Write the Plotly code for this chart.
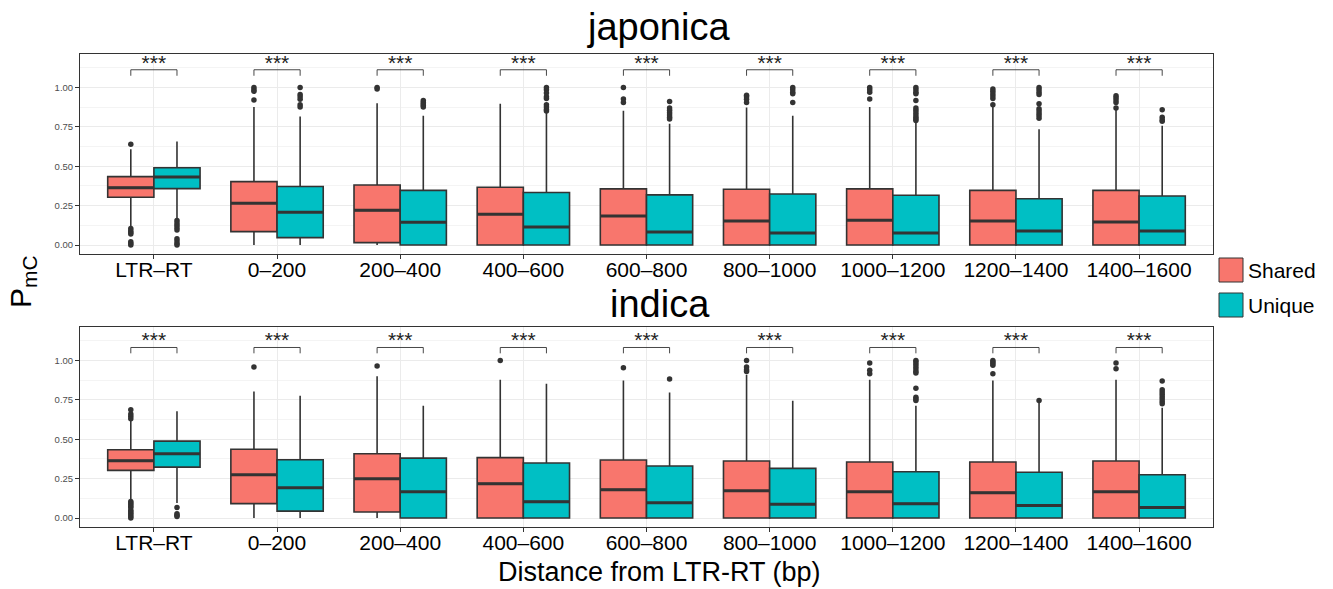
import plotly.graph_objects as go

# ---------------- data ----------------
categories = ["LTR\u2013RT", "0\u2013200", "200\u2013400", "400\u2013600", "600\u2013800",
              "800\u20131000", "1000\u20131200", "1200\u20131400", "1400\u20131600"]
panels = ["japonica", "indica"]
groups = ["Shared", "Unique"]

# japonica - Shared
jap_shared_q1 = [0.303, 0.085, 0.015, 0, 0, 0, 0, 0, 0]
jap_shared_med = [0.364, 0.265, 0.220, 0.195, 0.184, 0.153, 0.157, 0.153, 0.146]
jap_shared_q3 = [0.434, 0.402, 0.381, 0.367, 0.356, 0.354, 0.356, 0.347, 0.347]
jap_shared_lo = [0.117, 0, 0, 0, 0, 0, 0, 0, 0]
jap_shared_hi = [0.608, 0.875, 0.900, 0.896, 0.852, 0.873, 0.875, 0.879, 0.862]
jap_shared_out = [
    [0.64, 0.105, 0.09, 0.08, 0.07, 0.02, 0.01, 0.0],
    [1.0, 0.985, 0.975, 0.92],
    [1.0, 0.99],
    [],
    [1.0, 0.926, 0.905],
    [0.95, 0.94, 0.925, 0.905],
    [1.0, 0.985, 0.97, 0.926],
    [0.99, 0.975, 0.96, 0.945, 0.93, 0.89],
    [0.947, 0.935, 0.92, 0.905, 0.87],
]
# japonica - Unique
jap_unique_q1 = [0.358, 0.047, 0, 0, 0, 0, 0, 0, 0]
jap_unique_med = [0.432, 0.208, 0.144, 0.114, 0.083, 0.076, 0.076, 0.089, 0.089]
jap_unique_q3 = [0.490, 0.371, 0.347, 0.333, 0.318, 0.324, 0.316, 0.294, 0.311]
jap_unique_lo = [0.17, 0, 0, 0, 0, 0, 0, 0, 0]
jap_unique_hi = [0.657, 0.816, 0.820, 0.837, 0.769, 0.820, 0.784, 0.735, 0.756]
jap_unique_out = [
    [0.155, 0.14, 0.125, 0.11, 0.095, 0.04, 0.025, 0.01, 0.0],
    [1.0, 0.955, 0.94, 0.925, 0.89, 0.875],
    [0.917, 0.905, 0.895, 0.885, 0.875],
    [1.0, 0.985, 0.965, 0.94, 0.93, 0.89, 0.875, 0.86, 0.85],
    [0.91, 0.87, 0.855, 0.84, 0.825, 0.81, 0.80],
    [1.0, 0.985, 0.97, 0.96, 0.905],
    [1.0, 0.985, 0.97, 0.96, 0.917, 0.87, 0.855, 0.84, 0.825, 0.81, 0.80, 0.79],
    [1.0, 0.985, 0.97, 0.955, 0.896, 0.865, 0.85, 0.835, 0.82, 0.805],
    [0.858, 0.81, 0.795, 0.785],
]
# indica - Shared
ind_shared_q1 = [0.302, 0.091, 0.038, 0, 0, 0, 0, 0, 0]
ind_shared_med = [0.364, 0.275, 0.249, 0.218, 0.180, 0.173, 0.167, 0.161, 0.167]
ind_shared_q3 = [0.433, 0.436, 0.408, 0.383, 0.368, 0.362, 0.355, 0.355, 0.362]
ind_shared_lo = [0.112, 0, 0, 0, 0, 0, 0, 0, 0]
ind_shared_hi = [0.619, 0.803, 0.899, 0.877, 0.873, 0.909, 0.877, 0.873, 0.877]
ind_shared_out = [
    [0.687, 0.66, 0.645, 0.63, 0.105, 0.095, 0.085, 0.075, 0.065, 0.05, 0.04, 0.03, 0.02, 0.01, 0.0],
    [0.958],
    [0.964],
    [1.0],
    [0.953],
    [1.0, 0.958, 0.94, 0.93],
    [0.983, 0.937, 0.915],
    [1.0, 0.99, 0.98, 0.97, 0.915],
    [0.983, 0.947],
]
# indica - Unique
ind_unique_q1 = [0.323, 0.044, 0, 0, 0, 0, 0, 0, 0]
ind_unique_med = [0.408, 0.192, 0.167, 0.104, 0.097, 0.087, 0.091, 0.080, 0.066]
ind_unique_q3 = [0.488, 0.370, 0.380, 0.349, 0.330, 0.315, 0.294, 0.290, 0.275]
ind_unique_lo = [0.095, 0, 0, 0, 0, 0, 0, 0, 0]
ind_unique_hi = [0.677, 0.776, 0.712, 0.852, 0.797, 0.744, 0.712, 0.740, 0.700]
ind_unique_out = [
    [0.066, 0.027, 0.018, 0.01],
    [],
    [],
    [],
    [0.882],
    [],
    [1.0, 0.99, 0.975, 0.96, 0.945, 0.93, 0.92, 0.824, 0.767, 0.755, 0.745],
    [0.745],
    [0.869, 0.814, 0.80, 0.785, 0.77, 0.755, 0.74, 0.725],
]

significance = ["***"] * 9
y_tick_vals = [0, 0.25, 0.5, 0.75, 1.0]

# ---------------- styling ----------------
FONT = "Liberation Sans, Arial, Helvetica, sans-serif"
COLORS = {"Shared": "#F8766D", "Unique": "#00BFC4"}
DARK = "#333333"
W = 0.375  # dodge width per box

panel_data = {
    "japonica": {
        "Shared": (jap_shared_q1, jap_shared_med, jap_shared_q3, jap_shared_lo, jap_shared_hi, jap_shared_out),
        "Unique": (jap_unique_q1, jap_unique_med, jap_unique_q3, jap_unique_lo, jap_unique_hi, jap_unique_out),
        "axes": ("x", "y"),
        "bracket": (1.074, 1.112, 1.142),
    },
    "indica": {
        "Shared": (ind_shared_q1, ind_shared_med, ind_shared_q3, ind_shared_lo, ind_shared_hi, ind_shared_out),
        "Unique": (ind_unique_q1, ind_unique_med, ind_unique_q3, ind_unique_lo, ind_unique_hi, ind_unique_out),
        "axes": ("x2", "y2"),
        "bracket": (1.045, 1.082, 1.118),
    },
}

fig = go.Figure()
idx = list(range(len(categories)))

for panel in panels:
    pdict = panel_data[panel]
    xa, ya = pdict["axes"]
    for g, sign in zip(groups, [-1, 1]):
        q1, med, q3, lo, hi, outs = pdict[g]
        xs = [i + sign * W / 2 for i in idx]
        fig.add_trace(go.Box(
            x=xs, q1=q1, median=med, q3=q3, lowerfence=lo, upperfence=hi,
            width=W, fillcolor=COLORS[g], line=dict(color=DARK, width=1.6),
            whiskerwidth=0, boxpoints=False, showlegend=False, hoverinfo="skip",
            xaxis=xa, yaxis=ya,
        ))
        # thicker median lines (ggplot fatten)
        mx, my = [], []
        for xi, m in zip(xs, med):
            mx += [xi - W / 2, xi + W / 2, None]
            my += [m, m, None]
        fig.add_trace(go.Scatter(x=mx, y=my, mode="lines", line=dict(color=DARK, width=3),
                                 showlegend=False, hoverinfo="skip", xaxis=xa, yaxis=ya))
        # outliers
        ox, oy = [], []
        for xi, ol in zip(xs, outs):
            for v in ol:
                ox.append(xi)
                oy.append(v)
        fig.add_trace(go.Scatter(x=ox, y=oy, mode="markers",
                                 marker=dict(color=DARK, size=5.5),
                                 showlegend=False, hoverinfo="skip", xaxis=xa, yaxis=ya))
    # significance brackets
    tip, top, star_y = pdict["bracket"]
    bx, by = [], []
    for i in idx:
        bx += [i - W / 2, i - W / 2, i + W / 2, i + W / 2, None]
        by += [tip, top, top, tip, None]
    fig.add_trace(go.Scatter(x=bx, y=by, mode="lines", line=dict(color=DARK, width=0.9),
                             showlegend=False, hoverinfo="skip", xaxis=xa, yaxis=ya))
    fig.add_trace(go.Scatter(x=idx, y=[star_y] * len(idx), mode="text", text=significance,
                             textposition="middle center",
                             textfont=dict(family=FONT, size=21, color="#222222"),
                             showlegend=False, hoverinfo="skip", xaxis=xa, yaxis=ya))

# ---------------- layout ----------------
L, R, T, B = 80, 120, 54, 62
H, Wd = 589, 1333
plot_h = H - T - B  # 473


def py(p):  # pixel y -> paper
    return (H - B - p) / plot_h


def px(p):  # pixel x -> paper
    return (p - L) / (Wd - L - R)


xaxis_common = dict(
    range=[-0.6, 8.6], tickmode="array", tickvals=idx, ticktext=categories,
    tickfont=dict(family=FONT, size=21, color="#000000"),
    ticks="outside", ticklen=4, tickcolor=DARK, tickwidth=1,
    ticklabelstandoff=-7,
    showgrid=True, gridcolor="#EBEBEB", gridwidth=1.2,
    showline=True, mirror=True, linecolor=DARK, linewidth=1, zeroline=False,
)
yaxis_common = dict(
    range=[-0.057, 1.212], tickmode="array", tickvals=y_tick_vals,
    ticktext=["%.2f" % v for v in y_tick_vals],
    tickfont=dict(family=FONT, size=9.5, color="#4D4D4D"),
    ticks="outside", ticklen=4, tickcolor=DARK, tickwidth=1,
    showgrid=True, gridcolor="#EBEBEB", gridwidth=1.2,
    minor=dict(tickmode="array", tickvals=[0.125, 0.375, 0.625, 0.875, 1.125],
               showgrid=True, gridcolor="#F4F4F4", gridwidth=0.6, ticks=""),
    showline=True, mirror=True, linecolor=DARK, linewidth=1, zeroline=False,
)

top_dom = [py(254), 1.0]
bot_dom = [0.0, py(327)]

fig.update_layout(
    width=Wd, height=H,
    margin=dict(l=L, r=R, t=T, b=B),
    paper_bgcolor="white", plot_bgcolor="white",
    font=dict(family=FONT),
    boxmode="overlay",
    xaxis=dict(domain=[0, 1], anchor="y", **xaxis_common),
    yaxis=dict(domain=top_dom, anchor="x", **yaxis_common),
    xaxis2=dict(domain=[0, 1], anchor="y2", **xaxis_common),
    yaxis2=dict(domain=bot_dom, anchor="x2", **yaxis_common),
    showlegend=False,
)

annotations = [
    dict(text="japonica", x=px(658), y=py(27), xref="paper", yref="paper",
         showarrow=False, xanchor="center", yanchor="middle",
         font=dict(family=FONT, size=38, color="#000000")),
    dict(text="indica", x=px(660), y=py(304), xref="paper", yref="paper",
         showarrow=False, xanchor="center", yanchor="middle",
         font=dict(family=FONT, size=38, color="#000000")),
    dict(text="Distance from LTR-RT (bp)", x=px(659), y=py(572), xref="paper", yref="paper",
         showarrow=False, xanchor="center", yanchor="middle",
         font=dict(family=FONT, size=27, color="#000000")),
    dict(text="P<sub>mC</sub>", x=px(22), y=py(282), xref="paper", yref="paper",
         showarrow=False, xanchor="center", yanchor="middle", textangle=-90,
         font=dict(family=FONT, size=30, color="#000000")),
]

# manual legend
shapes = []
legend_rows = [("Shared", 258, 282, 270), ("Unique", 293, 317, 305)]
for name, y0, y1, yc in legend_rows:
    shapes.append(dict(type="rect", xref="paper", yref="paper",
                       x0=px(1219), x1=px(1243), y0=py(y1), y1=py(y0),
                       fillcolor=COLORS[name], line=dict(color=DARK, width=1)))
    annotations.append(dict(text=name, x=px(1246), y=py(yc), xref="paper", yref="paper",
                            showarrow=False, xanchor="left", yanchor="middle",
                            font=dict(family=FONT, size=21, color="#000000")))

fig.update_layout(annotations=annotations, shapes=shapes)

fig.write_html("out.html",
               config={"displayModeBar": False},
               post_script="document.body.style.margin='0';document.body.style.overflow='hidden';")
